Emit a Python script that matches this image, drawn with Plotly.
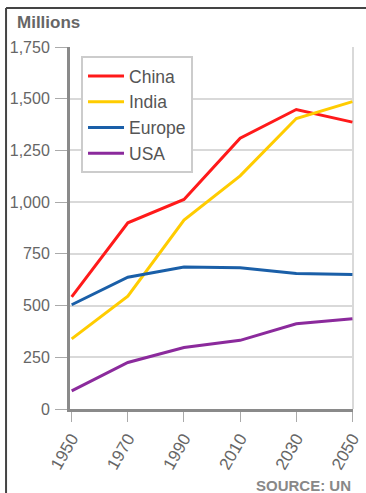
import plotly.graph_objects as go

years = [1950, 1970, 1990, 2010, 2030, 2050]
china = [542, 900, 1013, 1309, 1448, 1387]
india = [339, 545, 913, 1127, 1404, 1486]
europe = [504, 637, 686, 683, 655, 650]
usa = [88, 225, 297, 332, 412, 436]

series_names = ["China", "India", "Europe", "USA"]
series_values = [china, india, europe, usa]
series_colors = ["#ff1a1a", "#ffcc00", "#1a5fa8", "#8b2a9c"]

y_ticks = [0, 250, 500, 750, 1000, 1250, 1500, 1750]

fig = go.Figure()
for name, vals, col in zip(series_names, series_values, series_colors):
    fig.add_trace(go.Scatter(x=years, y=vals, name=name, mode="lines",
                             line=dict(color=col, width=3)))

FONT = "Liberation Sans, Arial, sans-serif"

fig.update_layout(
    width=366, height=493,
    margin=dict(l=70, r=13, t=47, b=84, autoexpand=False),
    paper_bgcolor="white", plot_bgcolor="white",
    font=dict(family=FONT, color="#666", size=16),
    showlegend=True,
    legend=dict(x=0.0389, y=0.9751, xanchor="left", yanchor="top",
                bgcolor="white", bordercolor="#cccccc", borderwidth=2,
                itemwidth=36,
                font=dict(family=FONT, size=17.5, color="#555")),
    xaxis=dict(range=[1949.4, 2050.2], tickvals=years, tickangle=-60,
               automargin=False,
               showgrid=False, zeroline=False, showline=True,
               linecolor="#8a8a8a", linewidth=3, ticks="outside",
               ticklen=10, tickwidth=1, tickcolor="#aaaaaa",
               tickfont=dict(family=FONT, size=17, color="#666")),
    yaxis=dict(range=[0, 1750], tickvals=y_ticks, tickformat=",",
               automargin=False,
               showgrid=True, gridcolor="#d9d9d9", gridwidth=2,
               zeroline=False, showline=True, linecolor="#8a8a8a",
               linewidth=3, ticks="outside", ticklen=12, tickwidth=1,
               tickcolor="#aaaaaa", ticklabelstandoff=2,
               tickfont=dict(family=FONT, size=16, color="#666")),
    shapes=[
        dict(type="line", xref="paper", yref="paper", x0=1, x1=1, y0=0, y1=1,
             line=dict(color="#d9d9d9", width=2), layer="below"),
        dict(type="line", xref="paper", yref="paper", x0=-0.226, x1=-0.226,
             y0=-0.232, y1=1.1077, line=dict(color="#444", width=2)),
        dict(type="line", xref="paper", yref="paper", x0=-0.226, x1=1.05,
             y0=1.1077, y1=1.1077, line=dict(color="#444", width=2)),
    ],
    annotations=[
        dict(text="<b>Millions</b>", xref="paper", yref="paper",
             x=-0.194, y=1.0994, xanchor="left", yanchor="top",
             showarrow=False, font=dict(family=FONT, size=17, color="#666")),
        dict(text="<b>SOURCE: UN</b>", xref="paper", yref="paper",
             x=1.0, y=-0.1823, xanchor="right", yanchor="top",
             showarrow=False, font=dict(family=FONT, size=15, color="#888")),
    ],
)

fig.write_html("out.html", config={"displayModeBar": False},
               post_script="document.body.style.margin='0';")
